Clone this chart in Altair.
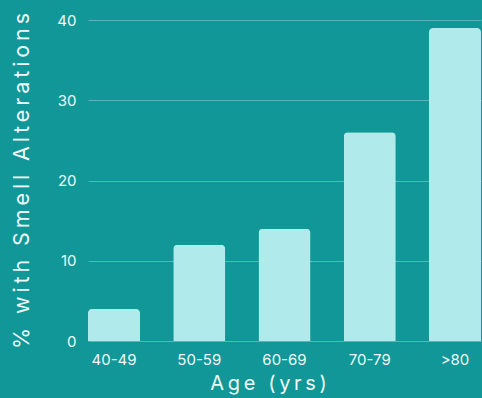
import altair as alt
import pandas as pd

ages = ["40-49", "50-59", "60-69", "70-79", ">80"]
values = [4, 12, 14, 26, 39]
x_title = "Age (yrs)"
y_title = "% with Smell Alterations"

df = pd.DataFrame({"age": ages, "pct": values})

def spaced(s):
    return "\u2009".join(s)

BG = "#119797"
BAR = "#b0eaea"
TXT = "#eefafa"
FONT = "Inter"

chart = alt.Chart(df).mark_bar(
    color=BAR, cornerRadiusTopLeft=4, cornerRadiusTopRight=4
).encode(
    x=alt.X("age:N", sort=ages, title=spaced(x_title),
            scale=alt.Scale(paddingInner=0.39, paddingOuter=0.0),
            axis=alt.Axis(labelAngle=0, labelFontSize=15, labelColor=TXT, labelFont=FONT,
                          labelPadding=11, ticks=False, domain=False,
                          titleFontSize=20, titleColor=TXT, titleFont=FONT,
                          titleFontWeight="normal", titlePadding=6, titleX=180)),
    y=alt.Y("pct:Q", title=spaced(y_title),
            scale=alt.Scale(domain=[0, 40]),
            axis=alt.Axis(values=[0, 10, 20, 30, 40], labelFontSize=15, labelColor=TXT,
                          labelFont=FONT, labelPadding=12, ticks=False, domain=False,
                          gridColor="#ffffff", gridOpacity=0.3, gridWidth=1,
                          titleFontSize=21.5, titleColor=TXT, titleFont=FONT,
                          titleFontWeight="normal", titlePadding=23)),
).properties(
    width=393, height=321, background=BG,
    padding={"left": 88, "top": 20, "right": 1, "bottom": 57},
    autosize=alt.AutoSizeParams(type="none"),
).configure_view(stroke=None).configure_axis(titleLimit=0)

chart.save("out.html", embed_options={"renderer": "svg", "actions": False})
